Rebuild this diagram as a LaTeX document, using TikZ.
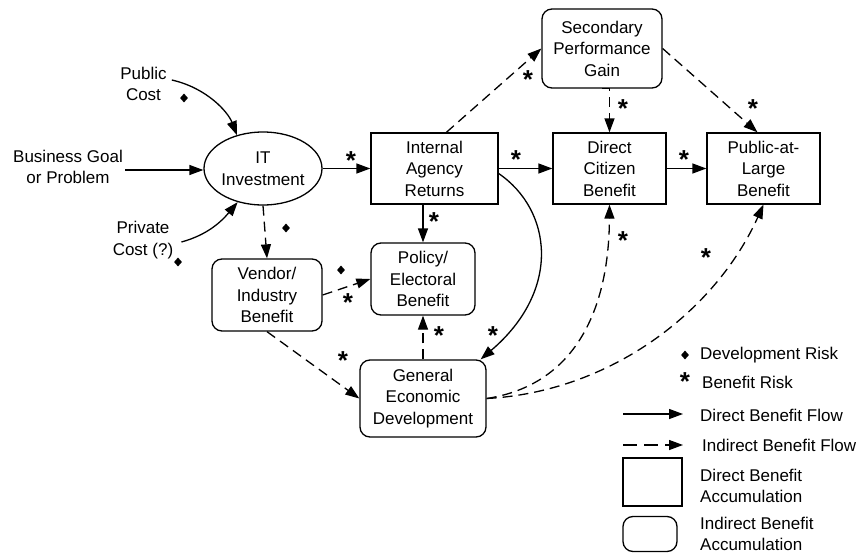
\documentclass[tikz,border=0pt]{standalone}
\usepackage{fontspec}
\setmainfont{Liberation Sans}
\usetikzlibrary{shapes.geometric,arrows.meta,calc}
\begin{document}
\begin{tikzpicture}[x=1pt,y=-1pt,
  every node/.style={font=\fontsize{17}{21.5}\selectfont, align=center, inner sep=0pt},
  box/.style={draw, line width=1.3pt},
  rbox/.style={draw, line width=1.3pt, rounded corners=10pt},
  flow/.style={line width=1.3pt, -{Triangle[length=14pt,width=10pt]}},
  iflow/.style={flow, dash pattern=on 10pt off 6pt},
  risk/.style={font=\fontsize{26}{26}\selectfont\bfseries, text height=18.7pt, text depth=-11.2pt},
  dia/.style={shape=diamond, fill=black, minimum width=8pt, minimum height=9pt, inner sep=0pt},
  legtext/.style={anchor=west, align=left}]
\useasboundingbox (0,0) rectangle (860,554);

% free texts
\node (pc) at (143.5,84) {Public\\Cost};
\node (bg) at (68,167) {Business Goal\\or Problem};
\node (pv) at (143,240) {Private\\Cost (?)};

% nodes
\node[ellipse, draw, line width=1.3pt, minimum width=118pt, minimum height=73pt, inner sep=0pt] (it) at (263,168.5) {IT\\Investment};
\node[box, minimum width=127pt, minimum height=71pt] (iar) at (434.5,168.5) {Internal\\Agency\\Returns};
\node[box, minimum width=113pt, minimum height=71pt] (dcb) at (609.5,168.5) {Direct\\Citizen\\Benefit};
\node[box, minimum width=113pt, minimum height=71pt] (pub) at (763.5,168.5) {Public-at-\\Large\\Benefit};
\node[rbox, minimum width=120pt, minimum height=79pt] (spg) at (602,48.5) {Secondary\\Performance\\Gain};
\node[rbox, minimum width=110pt, minimum height=72pt] (ven) at (267,295) {Vendor/\\Industry\\Benefit};
\node[rbox, minimum width=104pt, minimum height=72pt] (pol) at (423,279) {Policy/\\Electoral\\Benefit};
\node[rbox, minimum width=126pt, minimum height=77pt] (gen) at (423,398.5) {General\\Economic\\Development};

% connectors
\draw[flow] ($(pc.east |- 0,80)+(5,0)$) .. controls (207,88) and (228,112) .. (it.128);
\draw[flow] ($(bg.east |- 0,170)+(2,0)$) -- (it.west |- 0,170);
\draw[flow] ($(pv.east |- 0,242)+(8,0)$) .. controls (207,235) and (221,222) .. (it.-127);
\draw[flow] (it) -- (iar);
\draw[iflow] (it.south) -- (ven.north);
\draw[flow] (iar) -- (dcb);
\draw[flow] (dcb) -- (pub);
\draw[flow] (pol.north |- iar.south) -- (pol.north);
\draw[iflow] ($(iar.north west)+(76,0)$) -- (spg.west);
\draw[iflow] (spg.south) -- (dcb.north |- spg.south) -- (dcb.north);
\draw[iflow] (spg.east) -- ($(pub.north)+(-6,0)$);
\draw[iflow] (ven.east) -- (pol.west);
\draw[iflow] (ven.south) -- (gen.west);
\draw[iflow] (gen.north) -- (pol.south);
\draw[flow] ($(iar.east)+(0,5)$) .. controls (552,210) and (562,290) .. ($(gen.north east)+(-6,0)$);
\draw[iflow] (gen.east) .. controls (575,385) and (609,310) .. (dcb.south);
\draw[iflow] (gen.east) .. controls (610,392) and (715,312) .. (pub.south);

% risks
\node[risk] (r1) at (351,160) {*};
\node[risk] (r2) at (516,159) {*};
\node[risk] (r3) at (684,159) {*};
\node[risk] (r4) at (528,79) {*};
\node[risk] (r5) at (623,108) {*};
\node[risk] (r6) at (753,108) {*};
\node[risk] (r7) at (434,221) {*};
\node[risk] (r8) at (348,302) {*};
\node[risk] (r9) at (343,360) {*};
\node[risk] (r10) at (439,335) {*};
\node[risk] (r11) at (493,335) {*};
\node[risk] (r12) at (623,240) {*};
\node[risk] (r13) at (706,257) {*};

\node[dia] (d1) at (184,98) {};
\node[dia] (d2) at (178,262) {};
\node[dia] (d3) at (286,228) {};
\node[dia] (d4) at (341,270) {};

% legend
\node[dia] (ld) at (685,355) {};
\node[legtext] (ldt) at (700,355) {Development Risk};
\node[risk] (lr) at (685,381) {*};
\node[legtext] (lrt) at (702,382) {Benefit Risk};
\coordinate (la1) at (623,414);
\coordinate (la2) at (683,414);
\draw[flow] (la1) -- (la2);
\node[legtext] (lat) at (700,415) {Direct Benefit Flow};
\coordinate (lb1) at (623,445);
\coordinate (lb2) at (683,445);
\draw[iflow, dash pattern=on 14pt off 7pt] (lb1) -- (lb2);
\node[legtext] (lbt) at (702,445) {Indirect Benefit Flow};
\node[box, minimum width=59pt, minimum height=48pt] (lbox) at (652.5,482) {};
\node[legtext] (lboxt) at (700,486) {Direct Benefit\\Accumulation};
\node[rbox, minimum width=54pt, minimum height=35pt] (lrbox) at (650,534) {};
\node[legtext] (lrboxt) at (700,534) {Indirect Benefit\\Accumulation};
\end{tikzpicture}
\end{document}
